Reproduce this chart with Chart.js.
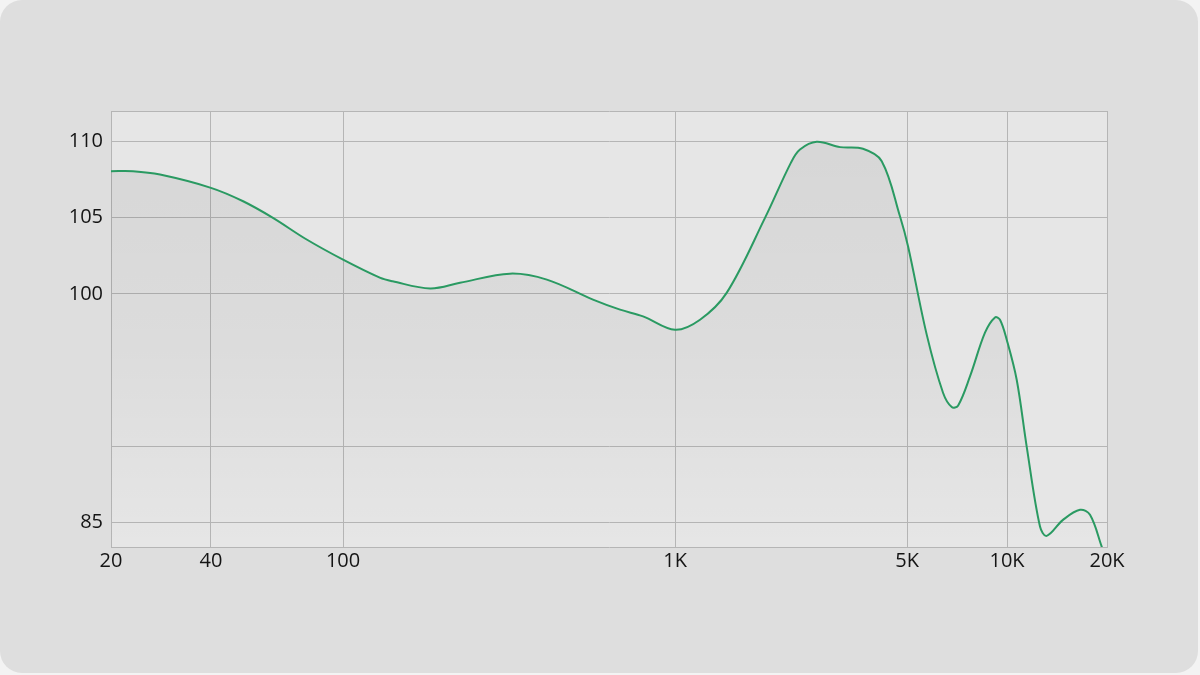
<!DOCTYPE html>
<html>
<head>
<meta charset="utf-8">
<title>Frequency response</title>
<script src="https://cdn.jsdelivr.net/npm/chart.js@4.4.1/dist/chart.umd.min.js"></script>
<style>
    html, body {
        margin: 0;
        padding: 0;
        background: #f3f3f3;
    }
    #card {
        position: absolute;
        left: 0;
        top: 0;
        width: 1198px;
        height: 673px;
        border-radius: 22px;
        background: #dedede;
    }
    #grafica {
        position: absolute;
        left: 0;
        top: 0;
    }
</style>
</head>
<body>
<div id="card"></div>
<canvas id="grafica" width="1200" height="675"></canvas>
<script>
// Frecuencias (Hz) y nivel (dB)
const frecuencias = [20, 23.3, 28.1, 40, 50, 61.5, 77.7, 100, 129, 141, 183, 225, 318, 411, 566, 683, 801, 1000,
    1189, 1430, 1866, 2232, 2378, 2671, 3140, 3681, 4193, 4758, 5032, 5728, 6414, 6813, 7117, 7733, 8580,
    9196, 9522, 9977, 10692, 11458, 12567, 13166, 14740, 16586, 17776, 19278, 20000];
const niveles = [108.05, 108.05, 107.83, 106.96, 106.08, 104.99, 103.57, 102.25, 101.07, 100.83, 100.36, 100.73,
    101.33, 100.94, 99.63, 98.97, 98.53, 97.65, 98.31, 100.07, 104.99, 108.6, 109.47, 109.98, 109.63, 109.52,
    108.71, 105.1, 103.13, 97.33, 93.52, 92.58, 92.67, 94.59, 97.46, 98.46, 98.31, 97.0, 94.37, 89.99, 84.74,
    84.13, 85.18, 85.84, 85.51, 83.43, 82.4];

// Marcas de los ejes
const ticksX = [20, 40, 100, 1000, 5000, 10000, 20000];
const etiquetasX = ['20', '40', '100', '1K', '5K', '10K', '20K'];
const ticksY = [85, 90, 100, 105, 110, 112];
const etiquetasY = ['85', '', '100', '105', '110', ''];

const puntos = frecuencias.map((f, i) => ({ x: f, y: niveles[i] }));

// Fondo del area de trazado
const fondoArea = {
    id: 'fondoArea',
    beforeDraw(chart) {
        const { ctx, chartArea } = chart;
        ctx.save();
        ctx.fillStyle = '#e6e6e6';
        ctx.fillRect(chartArea.left, chartArea.top, chartArea.right - chartArea.left, chartArea.bottom - chartArea.top);
        ctx.restore();
    }
};

function sombra(context) {
    const area = context.chart.chartArea;
    if (!area) {
        return 'rgba(0,0,0,0)';
    }
    const grad = context.chart.ctx.createLinearGradient(0, area.top, 0, area.bottom);
    grad.addColorStop(0, 'rgba(0,0,0,0.07)');
    grad.addColorStop(0.55, 'rgba(0,0,0,0.045)');
    grad.addColorStop(1, 'rgba(0,0,0,0)');
    return grad;
}

const fuente = { family: '"Open Sans", "Noto Sans", sans-serif', size: 20 };

new Chart(document.getElementById('grafica'), {
    type: 'line',
    data: {
        datasets: [{
            data: puntos,
            borderColor: '#2a9a62',
            borderWidth: 2,
            pointRadius: 0,
            tension: 0.35,
            fill: 'start',
            backgroundColor: sombra
        }]
    },
    options: {
        responsive: false,
        animation: false,
        layout: {
            padding: { top: 111, right: 93, bottom: 0, left: 0 }
        },
        plugins: {
            legend: { display: false },
            tooltip: { enabled: false }
        },
        scales: {
            x: {
                type: 'logarithmic',
                min: 20,
                max: 20000,
                afterBuildTicks(scale) {
                    scale.ticks = ticksX.map(v => ({ value: v }));
                },
                afterFit(scale) {
                    scale.height = 128;
                },
                grid: { color: '#b5b5b5', drawTicks: false },
                border: { color: '#b5b5b5' },
                ticks: {
                    color: '#141414',
                    font: fuente,
                    padding: 2,
                    maxRotation: 0,
                    autoSkip: false,
                    callback(value) {
                        const i = ticksX.indexOf(value);
                        return i >= 0 ? etiquetasX[i] : '';
                    }
                }
            },
            y: {
                min: 83.4,
                max: 112,
                afterBuildTicks(scale) {
                    scale.ticks = ticksY.map(v => ({ value: v }));
                },
                afterFit(scale) {
                    scale.width = 111;
                },
                grid: { color: '#b5b5b5', drawTicks: false },
                border: { color: '#b5b5b5' },
                ticks: {
                    color: '#141414',
                    font: fuente,
                    padding: 8,
                    autoSkip: false,
                    callback(value) {
                        const i = ticksY.indexOf(value);
                        return i >= 0 ? etiquetasY[i] : '';
                    }
                }
            }
        }
    },
    plugins: [fondoArea]
});
</script>
</body>
</html>
